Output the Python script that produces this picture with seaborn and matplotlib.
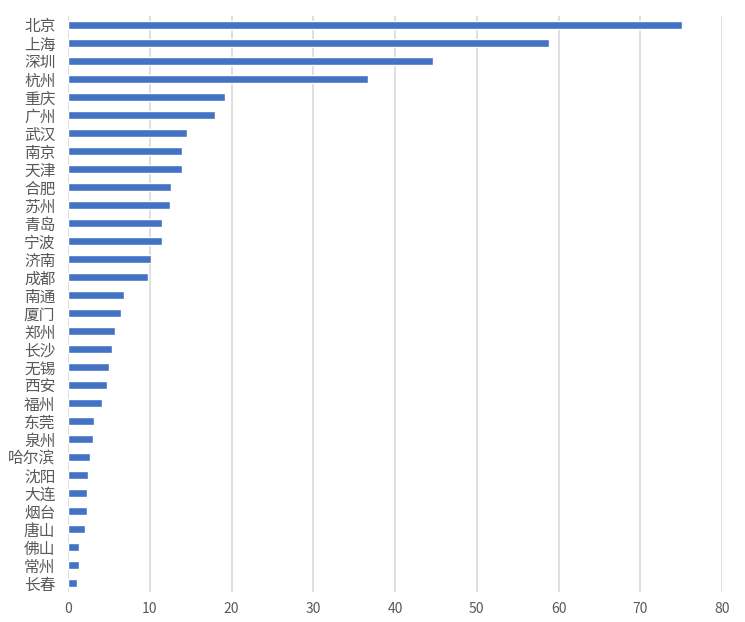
import numpy as np
import pandas as pd
import matplotlib
matplotlib.use('Agg')
import matplotlib.pyplot as plt
import seaborn as sns

## Data
cities = ['北京', '上海', '深圳', '杭州', '重庆', '广州', '武汉', '南京', '天津', '合肥',
          '苏州', '青岛', '宁波', '济南', '成都', '南通', '厦门', '郑州', '长沙', '无锡',
          '西安', '福州', '东莞', '泉州', '哈尔滨', '沈阳', '大连', '烟台', '唐山', '佛山',
          '常州', '长春']
values = [75.1, 58.8, 44.7, 36.75, 19.2, 18.0, 14.6, 14.0, 13.9, 12.55,
          12.5, 11.5, 11.45, 10.15, 9.8, 6.8, 6.45, 5.7, 5.35, 5.0,
          4.77, 4.15, 3.2, 3.05, 2.7, 2.45, 2.3, 2.3, 2.05, 1.4,
          1.35, 1.05]
x_ticks = [0, 10, 20, 30, 40, 50, 60, 70, 80]

df = pd.DataFrame({'city': cities, 'value': values})

## Style
sns.set_theme(style='white')
plt.rcParams['font.family'] = ['Noto Sans CJK SC', 'DejaVu Sans']

bar_color = '#4472C4'
grid_color = '#d9d9d9'
text_color = '#595959'

## Figure
fig = plt.figure(figsize=(7.45, 6.22), dpi=100)
ax = fig.add_axes([68 / 745, 1 - 592 / 622, (722 - 68) / 745, (592 - 16) / 622])

sns.barplot(data=df, x='value', y='city', orient='h', color=bar_color,
            width=0.4, saturation=1, ax=ax)

ax.set_xlim(0, 80)
ax.set_ylim(len(cities) - 0.5, -0.5)
ax.set_xticks(x_ticks)
ax.xaxis.grid(True, color=grid_color, linewidth=1.2)
ax.yaxis.grid(False)
ax.set_axisbelow(True)

for s in ['top', 'right', 'bottom', 'left']:
    ax.spines[s].set_visible(False)

ax.set_xlabel('')
ax.set_ylabel('')
ax.tick_params(axis='y', length=0, pad=9, labelsize=11.3, labelcolor=text_color)
ax.tick_params(axis='x', length=0, pad=7, labelsize=10, labelcolor=text_color)
for lab in ax.get_yticklabels() + ax.get_xticklabels():
    lab.set_fontweight('light')

fig.savefig('out.png', dpi=100)
